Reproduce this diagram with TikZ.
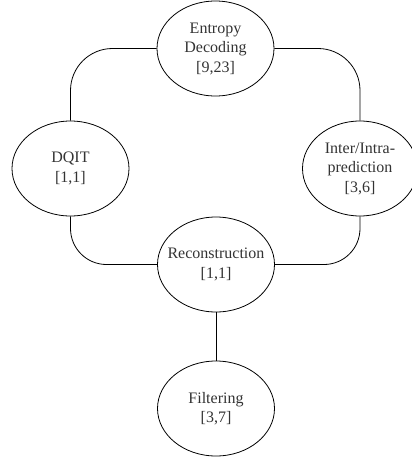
\documentclass[tikz,border=0pt]{standalone}
\usepackage{fontspec}
\setmainfont{Liberation Serif}
\usetikzlibrary{shapes.geometric}
\begin{document}
\begin{tikzpicture}[x=1pt,y=-1pt,
  stage/.style={ellipse,draw=black,line width=0.8pt,minimum width=117pt,minimum height=95pt,
    inner xsep=-9pt,inner ysep=0pt,align=center,text=black!80,font=\fontsize{16}{19.5}\selectfont},
  link/.style={draw=black,line width=0.8pt}]
\useasboundingbox (0,0) rectangle (412,461);
\node[stage] (ent) at (215.5,48.5) {Entropy\\Decoding\\{[}9,23{]}};
\node[stage] (dqit) at (70.5,168.5) {DQIT\\{[}1,1{]}};
\node[stage,minimum width=115pt] (pred) at (360,168.5) {Inter/Intra-\\prediction\\{[}3,6{]}};
\node[stage] (rec) at (216,264.5) {Reconstruction\\{[}1,1{]}};
\node[stage] (filt) at (216,408.5) {Filtering\\{[}3,7{]}};
% loop connectors with soft bends
\draw[link,rounded corners=42pt] (ent.west) -| (dqit.north);
\draw[link,rounded corners=42pt] (ent.east) -| (pred.north);
\draw[link,rounded corners=36pt] (dqit.south) |- (rec.west);
\draw[link,rounded corners=36pt] (pred.south) |- (rec.east);
\draw[link] (rec.south) -- (filt.north);
\end{tikzpicture}
\end{document}
